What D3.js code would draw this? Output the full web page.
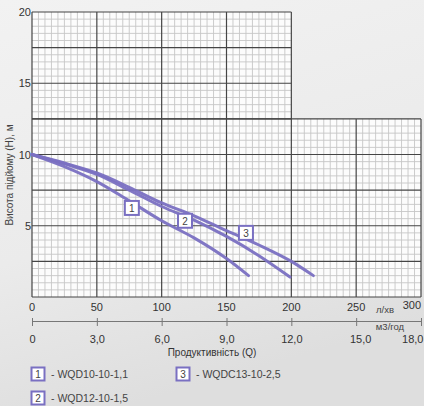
<!DOCTYPE html>
<html><head><meta charset="utf-8">
<script src="https://cdn.jsdelivr.net/npm/d3@7"></script>
<style>
html,body{margin:0;padding:0;}
body{width:424px;height:406px;overflow:hidden;background:#e9e9e9;}
svg text{font-family:"Liberation Sans",Arial,Helvetica,sans-serif;}
</style></head>
<body>
<svg id="c" width="424" height="406"></svg>
<script>
// ---- data ----
const flowTicks = [0, 50, 100, 150, 200, 250, 300];          // л/хв
const m3Ticks = [0, 3, 6, 9, 12, 15, 18];                    // м3/год
const headTicks = [5, 10, 15, 20];                            // м
const seriesNames = ["WQD10-10-1,1", "WQD12-10-1,5", "WQDC13-10-2,5"];
const seriesIds = ["1", "2", "3"];
const q1 = [0, 25, 50, 75, 100, 125, 150, 167];
const h1 = [10, 9.15, 8.1, 6.75, 5.35, 4.15, 2.7, 1.5];
const q2 = [0, 25, 50, 75, 100, 125, 150, 175, 199];
const h2 = [10, 9.35, 8.6, 7.5, 6.35, 5.4, 4.25, 2.9, 1.4];
const q3 = [0, 25, 50, 75, 100, 125, 150, 175, 200, 217];
const h3 = [10, 9.4, 8.7, 7.7, 6.6, 5.7, 4.65, 3.65, 2.5, 1.5];
// label positions on curves (data units)
const labelQ = [77, 118, 165];
const labelH = [6.25, 5.35, 4.5];

const purple = "#7a70c2";
const svg = d3.select("#c");

// background
const defs = svg.append("defs");
const g1 = defs.append("linearGradient").attr("id","bg").attr("x1",0).attr("y1",0).attr("x2",0.3).attr("y2",1);
g1.append("stop").attr("offset","0").attr("stop-color","#f2f2f2");
g1.append("stop").attr("offset","0.6").attr("stop-color","#ebebeb");
g1.append("stop").attr("offset","1").attr("stop-color","#dedede");
svg.append("rect").attr("width",424).attr("height",406).attr("fill","url(#bg)");

const x = d3.scaleLinear().domain([0, 300]).range([32, 421]);
const y = d3.scaleLinear().domain([0, 20]).range([297, 12]);
const x2 = d3.scaleLinear().domain([0, 18]).range([32, 421]);

// grid regions: [q0,q1,h0,h1]
const regions = [[0, 300, 0, 12.5], [0, 200, 12.5, 20]];
const grid = svg.append("g");
regions.forEach(r => {
  grid.append("rect").attr("x", x(r[0])).attr("y", y(r[3]))
    .attr("width", x(r[1]) - x(r[0])).attr("height", y(r[2]) - y(r[3]))
    .attr("fill", "#fcfcfc");
});
regions.forEach(r => {
  for (let q = r[0]; q <= r[1] + 1e-6; q += 5) {
    if (q % 50 === 0) continue;
    grid.append("line").attr("x1", x(q)).attr("x2", x(q)).attr("y1", y(r[2])).attr("y2", y(r[3]))
      .attr("stroke", "#c6c6c6").attr("stroke-width", 0.9);
  }
  for (let h = r[2]; h <= r[3] + 1e-6; h += 0.5) {
    if (Math.abs(h / 2.5 - Math.round(h / 2.5)) < 1e-6) continue;
    grid.append("line").attr("x1", x(r[0])).attr("x2", x(r[1])).attr("y1", y(h)).attr("y2", y(h))
      .attr("stroke", "#c6c6c6").attr("stroke-width", 0.9);
  }
});
regions.forEach(r => {
  for (let q = r[0]; q <= r[1] + 1e-6; q += 50) {
    grid.append("line").attr("x1", x(q)).attr("x2", x(q)).attr("y1", y(r[2])).attr("y2", y(r[3]))
      .attr("stroke", "#454545").attr("stroke-width", 1.2);
  }
  for (let h = r[2]; h <= r[3] + 1e-6; h += 2.5) {
    grid.append("line").attr("x1", x(r[0])).attr("x2", x(r[1])).attr("y1", y(h)).attr("y2", y(h))
      .attr("stroke", "#454545").attr("stroke-width", 1.2);
  }
});

// y tick labels
svg.append("g").selectAll("text").data(headTicks).join("text")
  .attr("x", 31).attr("y", d => y(d) + 4).attr("text-anchor", "end")
  .attr("font-size", 11).attr("fill", "#333").text(d => d);

// x tick labels (л/хв)
svg.append("g").selectAll("text").data(flowTicks).join("text")
  .attr("x", d => d === 300 ? 421 : x(d)).attr("y", d => d === 300 ? 309 : 311)
  .attr("text-anchor", d => d === 300 ? "end" : "middle")
  .attr("font-size", 11).attr("fill", "#333").text(d => d);
svg.append("text").attr("x", 385).attr("y", 313).attr("text-anchor", "middle")
  .attr("font-size", 9.5).attr("fill", "#444").text("л/хв");

// second axis (м3/год)
const ax2 = d3.axisBottom(x2).tickValues(m3Ticks).tickSize(5).tickSizeOuter(0)
  .tickFormat(d => d === 0 ? "0" : d3.format(".1f")(d).replace(".", ","));
const a2 = svg.append("g").attr("transform", "translate(0,321)").call(ax2);
a2.select(".domain").attr("stroke", "#777").attr("stroke-width", 1);
a2.selectAll(".tick line").attr("stroke", "#777").attr("y1", -3).attr("y2", 5);
a2.selectAll(".tick text").attr("font-size", 11).attr("fill", "#333")
  .attr("font-family", "Liberation Sans, Arial, sans-serif").attr("dy", "1.3em")
  .attr("text-anchor", d => d === 18 ? "end" : "middle")
  .attr("dx", d => d === 18 ? 2 : (d === 15 ? 4 : 0));
svg.append("text").attr("x", 390).attr("y", 330).attr("text-anchor", "middle")
  .attr("font-size", 9.5).attr("fill", "#444").text("м3/год");

svg.append("text").attr("x", 212).attr("y", 356).attr("text-anchor", "middle")
  .attr("font-size", 10).attr("fill", "#333").text("Продуктивність (Q)");

svg.append("text").attr("transform", "translate(13,175) rotate(-90)").attr("text-anchor", "middle")
  .attr("font-size", 10).attr("fill", "#444").text("Висота підйому (H), м");

// curves
const series = [[q1, h1], [q2, h2], [q3, h3]];
const line = d3.line().x(d => x(d[0])).y(d => y(d[1])).curve(d3.curveMonotoneX);
svg.append("g").selectAll("path").data(series).join("path")
  .attr("d", s => line(s[0].map((q, i) => [q, s[1][i]])))
  .attr("fill", "none").attr("stroke", purple).attr("stroke-width", 3)
  .attr("stroke-linecap", "round").attr("stroke-opacity", 0.95);

// curve labels
const lab = svg.append("g").selectAll("g").data(seriesIds).join("g")
  .attr("transform", (d, i) => `translate(${x(labelQ[i])},${y(labelH[i])})`);
lab.append("rect").attr("x", -7).attr("y", -7).attr("width", 14).attr("height", 14)
  .attr("fill", "#fff").attr("stroke", purple).attr("stroke-width", 2);
lab.append("text").attr("text-anchor", "middle").attr("y", 4).attr("font-size", 10)
  .attr("fill", "#444").text(d => d);

// legend
const legPos = [[38, 374], [38, 398], [183, 374]];
const leg = svg.append("g").selectAll("g").data(seriesIds).join("g")
  .attr("transform", (d, i) => `translate(${legPos[i][0]},${legPos[i][1]})`);
leg.append("rect").attr("x", -6.5).attr("y", -6.5).attr("width", 13).attr("height", 13)
  .attr("fill", "#fff").attr("stroke", purple).attr("stroke-width", 2);
leg.append("text").attr("text-anchor", "middle").attr("y", 4).attr("font-size", 10)
  .attr("fill", "#444").text(d => d);
leg.append("text").attr("x", 13).attr("y", 4).attr("font-size", 10.5)
  .attr("fill", "#444").text((d, i) => "- " + seriesNames[i]);
</script>
</body></html>
